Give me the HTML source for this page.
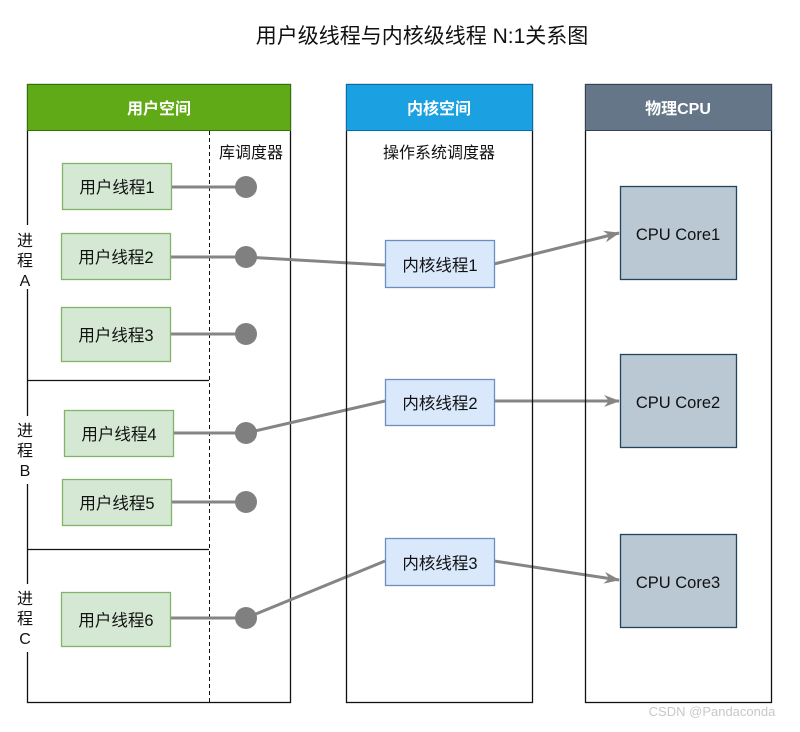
<!DOCTYPE html>
<html><head><meta charset="utf-8"><style>
html,body{margin:0;padding:0;background:#fff;}
svg text{font-family:"Liberation Sans","Noto Sans CJK SC",sans-serif;}
</style></head><body>
<svg width="800" height="727" viewBox="0 0 800 727" xmlns="http://www.w3.org/2000/svg">
<defs><marker id="ar" markerWidth="16" markerHeight="12" refX="15" refY="6" orient="auto" markerUnits="userSpaceOnUse"><path d="M0,0 L16,6 L0,12 L5,6 Z" fill="#858585"/></marker></defs>
<text x="422" y="43" font-size="21" text-anchor="middle" fill="#111">用户级线程与内核级线程 N:1关系图</text>

<rect x="27.5" y="84.5" width="263" height="618" fill="#fff" stroke="#111" stroke-width="1.3"/>
<rect x="27.5" y="84.5" width="263" height="46" fill="#60a917" stroke="#2d7600"/>
<text x="159" y="114" font-size="16" font-weight="bold" fill="#fff" text-anchor="middle">用户空间</text>
<line x1="209.5" y1="131" x2="209.5" y2="702" stroke="#111" stroke-dasharray="4,3"/>
<text x="251" y="158" font-size="16" text-anchor="middle" fill="#111">库调度器</text>
<line x1="27" y1="380.5" x2="209" y2="380.5" stroke="#111" stroke-width="1.3"/>
<line x1="27" y1="549.5" x2="209" y2="549.5" stroke="#111" stroke-width="1.3"/>
<rect x="16" y="225" width="20" height="64" fill="#fff"/>
<rect x="16" y="416" width="20" height="68" fill="#fff"/>
<rect x="16" y="584" width="20" height="68" fill="#fff"/>
<g font-size="16" fill="#111" text-anchor="middle">
<text x="25" y="246">进</text><text x="25" y="266">程</text><text x="25" y="286">A</text>
<text x="25" y="436">进</text><text x="25" y="456">程</text><text x="25" y="476">B</text>
<text x="25" y="604">进</text><text x="25" y="624">程</text><text x="25" y="644">C</text>
</g>

<g stroke="#858585" stroke-width="3">
<line x1="171" y1="187" x2="246" y2="187"/>
<line x1="170" y1="257" x2="246" y2="257"/>
<line x1="170" y1="334" x2="246" y2="334"/>
<line x1="173" y1="433" x2="246" y2="433"/>
<line x1="171" y1="502" x2="246" y2="502"/>
<line x1="170" y1="618" x2="246" y2="618"/>
<line x1="246" y1="257" x2="385" y2="265"/>
<line x1="246" y1="433" x2="385" y2="401"/>
<line x1="246" y1="618" x2="385" y2="561"/>
<line x1="494" y1="264" x2="619" y2="233" marker-end="url(#ar)"/>
<line x1="494" y1="401" x2="619" y2="401" marker-end="url(#ar)"/>
<line x1="494" y1="561" x2="619" y2="580" marker-end="url(#ar)"/>
</g>
<g fill="#808080">
<circle cx="246" cy="187" r="11"/><circle cx="246" cy="257" r="11"/><circle cx="246" cy="334" r="11"/>
<circle cx="246" cy="433" r="11"/><circle cx="246" cy="502" r="11"/><circle cx="246" cy="618" r="11"/>
</g>
<g fill="#d5e8d4" stroke="#82b366" stroke-width="1.3">
<rect x="62.5" y="163.5" width="109" height="46"/>
<rect x="61.5" y="233.5" width="109" height="46"/>
<rect x="61.5" y="307.5" width="109" height="54"/>
<rect x="64.5" y="410.5" width="109" height="46"/>
<rect x="62.5" y="479.5" width="109" height="46"/>
<rect x="61.5" y="592.5" width="109" height="54"/>
</g>
<g font-size="16.5" fill="#111" text-anchor="middle">
<text x="117" y="193">用户线程1</text>
<text x="116" y="263">用户线程2</text>
<text x="116" y="341">用户线程3</text>
<text x="119" y="440">用户线程4</text>
<text x="117" y="509">用户线程5</text>
<text x="116" y="626">用户线程6</text>
</g>

<rect x="346.5" y="84.5" width="186" height="618" fill="none" stroke="#111" stroke-width="1.3"/>
<rect x="346.5" y="84.5" width="186" height="46" fill="#1ba1e2" stroke="#006eaf"/>
<text x="439" y="114" font-size="16" font-weight="bold" fill="#fff" text-anchor="middle">内核空间</text>
<text x="439" y="158" font-size="16" fill="#111" text-anchor="middle">操作系统调度器</text>
<g fill="#dae8fc" stroke="#6c8ebf" stroke-width="1.3">
<rect x="385.5" y="240.5" width="109" height="47"/>
<rect x="385.5" y="379.5" width="109" height="46"/>
<rect x="385.5" y="538.5" width="109" height="47"/>
</g>
<g font-size="16.5" fill="#111" text-anchor="middle">
<text x="440" y="271">内核线程1</text>
<text x="440" y="409">内核线程2</text>
<text x="440" y="569">内核线程3</text>
</g>

<rect x="585.5" y="84.5" width="186" height="618" fill="none" stroke="#111" stroke-width="1.3"/>
<rect x="585.5" y="84.5" width="186" height="46" fill="#647687" stroke="#314354"/>
<text x="678" y="114" font-size="16" font-weight="bold" fill="#fff" text-anchor="middle">物理CPU</text>
<g fill="#bac8d3" stroke="#23445d" stroke-width="1.3">
<rect x="620.5" y="186.5" width="116" height="93"/>
<rect x="620.5" y="354.5" width="116" height="93"/>
<rect x="620.5" y="534.5" width="116" height="93"/>
</g>
<g font-size="16.5" fill="#111" text-anchor="middle">
<text x="678" y="240">CPU Core1</text>
<text x="678" y="408">CPU Core2</text>
<text x="678" y="588">CPU Core3</text>
</g>
<text x="712" y="716" font-size="13" fill="#c8c8c8" text-anchor="middle">CSDN @Pandaconda</text>
</svg>
</body></html>
